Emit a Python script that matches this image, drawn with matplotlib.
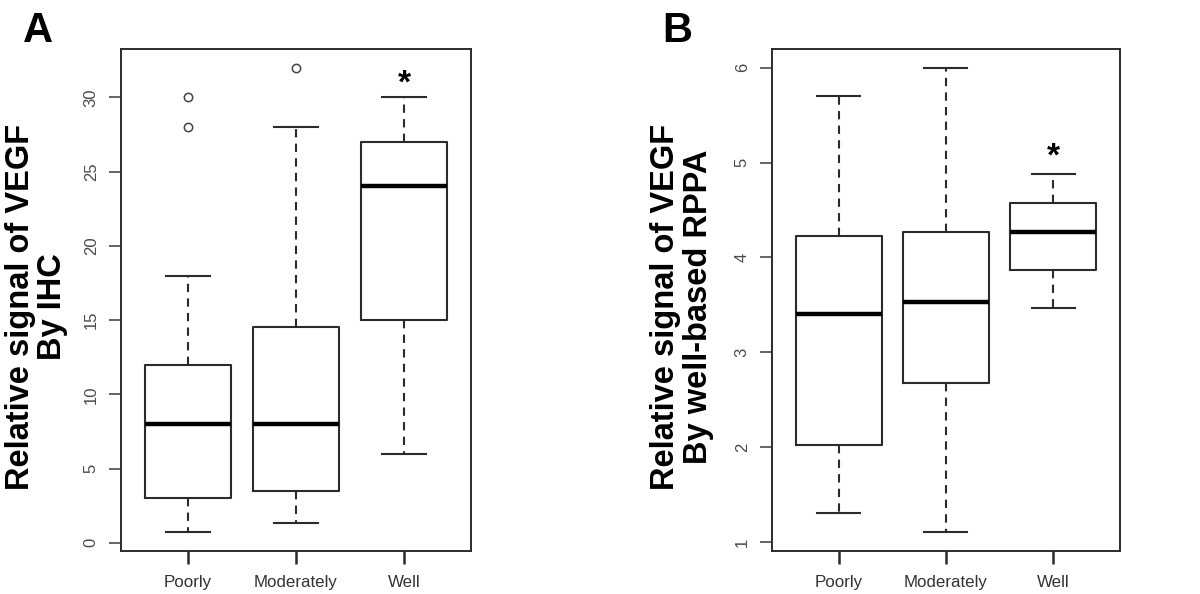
import matplotlib
matplotlib.use("Agg")
import matplotlib.pyplot as plt

plt.rcParams['font.family'] = ['Liberation Sans', 'DejaVu Sans']

# Grade groups on the x axis
groups = ["Poorly", "Moderately", "Well"]

# Panel A: VEGF by IHC (whisker low, Q1, median, Q3, whisker high)
ihc_low = [0.7, 1.3, 6.0]
ihc_q1 = [3.0, 3.5, 15.0]
ihc_med = [8.0, 8.0, 24.0]
ihc_q3 = [12.0, 14.5, 27.0]
ihc_high = [18.0, 28.0, 30.0]
ihc_fliers = [[28.0, 30.0], [32.0], []]
ihc_star = 30.9
ihc_ticks = [0, 5, 10, 15, 20, 25, 30]

# Panel B: VEGF by well-based RPPA
rppa_low = [1.30, 1.10, 3.47]
rppa_q1 = [2.02, 2.68, 3.87]
rppa_med = [3.40, 3.53, 4.27]
rppa_q3 = [4.23, 4.27, 4.57]
rppa_high = [5.70, 6.00, 4.88]
rppa_fliers = [[], [], []]
rppa_star = 5.06
rppa_ticks = [1, 2, 3, 4, 5, 6]

line_col = "#2b2b2b"
tick_col = "#4a4a4a"


def make_stats(low, q1, med, q3, high, fliers):
    stats = []
    for i in range(len(groups)):
        stats.append({"whislo": low[i], "q1": q1[i], "med": med[i],
                      "q3": q3[i], "whishi": high[i], "fliers": fliers[i],
                      "label": groups[i]})
    return stats


def draw_panel(ax, stats, ticks, star_y, ylabel, lpad):
    ax.bxp(stats, positions=[1, 2, 3], widths=0.8, showfliers=True,
           boxprops=dict(color=line_col, linewidth=1.5),
           medianprops=dict(color="black", linewidth=3.2),
           whiskerprops=dict(color=line_col, linewidth=1.5, linestyle=(0, (4, 3))),
           capprops=dict(color=line_col, linewidth=1.5),
           capwidths=0.4,
           flierprops=dict(marker="o", markerfacecolor="none",
                           markeredgecolor="#444444", markersize=6,
                           markeredgewidth=1.1))
    # R-style 4% padding of the data range
    lo = min(s["whislo"] for s in stats)
    hi = max([s["whishi"] for s in stats] + [f for s in stats for f in s["fliers"]])
    pad = (hi - lo) * 0.04
    ax.set_ylim(lo - pad, hi + pad)
    ax.set_xlim(0.38, 3.62)
    ax.set_yticks(ticks)
    ax.set_yticklabels([str(t) for t in ticks], rotation=90, va="center")
    ax.tick_params(axis="y", length=9, width=1.2, color=tick_col,
                   labelsize=12, labelcolor=tick_col, pad=7)
    ax.tick_params(axis="x", length=9, width=1.8, color=line_col,
                   labelsize=12.2, labelcolor="#333333", pad=8)
    for sp in ax.spines.values():
        sp.set_linewidth(1.4)
        sp.set_color(line_col)
    ax.text(3, star_y, "*", ha="center", va="center", fontsize=24,
            fontweight="bold")
    ax.set_ylabel(ylabel, fontsize=23.5, fontweight="bold", labelpad=lpad,
                  linespacing=1.08)
    ax.yaxis.label.set_y(0.486)
    return ax


fig = plt.figure(figsize=(12, 5.94), dpi=100)
ax1 = fig.add_axes([0.1008, 0.0724, 0.2917, 0.845])
ax2 = fig.add_axes([0.6433, 0.0724, 0.29, 0.845])

draw_panel(ax1, make_stats(ihc_low, ihc_q1, ihc_med, ihc_q3, ihc_high, ihc_fliers),
           ihc_ticks, ihc_star, "Relative signal of VEGF\nBy IHC", 11)
draw_panel(ax2, make_stats(rppa_low, rppa_q1, rppa_med, rppa_q3, rppa_high, rppa_fliers),
           rppa_ticks, rppa_star, "Relative signal of VEGF\nBy well-based RPPA", 15)

fig.text(0.032, 0.948, "A", fontsize=30, fontweight="bold", ha="center", va="center")
fig.text(0.564, 0.948, "B", fontsize=30, fontweight="bold", ha="center", va="center")

fig.savefig("out.png", dpi=100)
